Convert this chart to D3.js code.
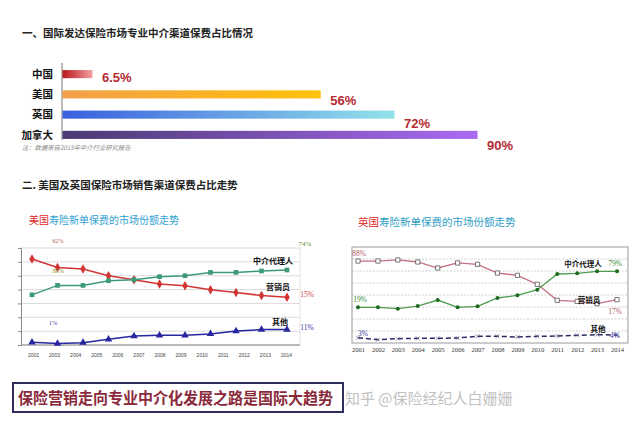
<!DOCTYPE html>
<html>
	<head>
		<meta charset="utf-8">
		<title>保险营销走向专业中介化</title>
		<script src="https://d3js.org/d3.v7.min.js"></script>
		<style>
			html, body { margin: 0; background: #fff; overflow: hidden; }
			#chart { display: block; font-family: "Noto Sans CJK SC", "Noto Sans", sans-serif; }
		</style>
	</head>
	<body>
		<svg id="chart" width="640" height="423"></svg>
		<script>
			// part 1: share of premium through intermediaries
			let barCountries = ["中国", "美国", "英国", "加拿大"];
			let barValues = [6.5, 56, 72, 90];
			let barLabels = ["6.5%", "56%", "72%", "90%"];

			// part 2 left: US new life premium share (11 points, 13 year labels as in source)
			let usYears = ["2002", "2003", "2004", "2005", "2006", "2007", "2008", "2009", "2010", "2011", "2012", "2013", "2014"];
			let usAgent = [36.2, 43, 43, 46.4, 47.1, 49.3, 50, 52.4, 52.4, 53.4, 54.1];
			let usSales = [62.1, 56, 54.8, 50, 47.1, 44, 42.8, 39.9, 37.9, 35.7, 34.5];
			let usOther = [1.9, 1, 1.7, 4.1, 6.5, 7, 7, 8, 10.1, 11.1, 11.1];

			// part 2 right: UK new life premium share
			let ukYears = ["2001", "2002", "2003", "2004", "2005", "2006", "2007", "2008", "2009", "2010", "2011", "2012", "2013", "2014"];
			let ukSales = [68.3, 68.3, 69.2, 67.5, 62.5, 66.7, 65.6, 58.3, 56.4, 48.9, 35.6, 34.7, 32.8, 36.1];
			let ukAgent = [29.7, 29.7, 28.6, 30.8, 35.8, 29.7, 30.6, 37.5, 39.7, 44.4, 57.5, 58.1, 59.7, 59.7];
			let ukOther = [4.4, 2.8, 3.6, 3.9, 3.9, 4.2, 5.6, 5.6, 5, 5.6, 5.8, 6.4, 6.9, 6.7];

			let barColors = [["#b8161c", "#f3a0a0"], ["#f2a04a", "#ffc108"], ["#3a5fe0", "#92e2ea"], ["#4a3a72", "#aa6af2"]];

			let svg = d3.select("#chart");
			svg.append("rect").attr("width", 640).attr("height", 423).attr("fill", "#fff");

			// headings
			svg.append("text")
				.attr("x", 22).attr("y", 37)
				.attr("font-size", 10.5).attr("font-weight", "bold").attr("fill", "#222")
				.text("一、国际发达保险市场专业中介渠道保费占比情况");

			svg.append("text")
				.attr("x", 22).attr("y", 189)
				.attr("font-size", 10.5).attr("font-weight", "bold").attr("fill", "#222")
				.text("二. 美国及英国保险市场销售渠道保费占比走势");

			// ---------- bar chart ----------
			let barX = d3.scaleLinear().domain([0, 90]).range([62, 477]);
			let barY = d3.scaleBand().domain(barCountries).range([64, 145]).paddingInner(0.6).paddingOuter(0.3);

			let defs = svg.append("defs");
			barCountries.forEach(function (c, i)
			{
				let grad = defs.append("linearGradient").attr("id", "bar-grad-" + i);
				grad.append("stop").attr("offset", "0%").attr("stop-color", barColors[i][0]);
				grad.append("stop").attr("offset", "100%").attr("stop-color", barColors[i][1]);
			});

			svg.append("line")
				.attr("x1", barX(0)).attr("x2", barX(0))
				.attr("y1", 63).attr("y2", 140)
				.attr("stroke", "#777").attr("stroke-width", 1);

			svg.append("g").selectAll("rect")
				.data(barValues)
				.join("rect")
				.attr("x", barX(0) + 0.5)
				.attr("y", (d, i) => barY(barCountries[i]))
				.attr("width", d => barX(d) - barX(0))
				.attr("height", barY.bandwidth())
				.attr("fill", (d, i) => "url(#bar-grad-" + i + ")");

			svg.append("g").selectAll("text")
				.data(barCountries)
				.join("text")
				.attr("x", 53)
				.attr("y", d => barY(d) + barY.bandwidth() / 2)
				.attr("dy", "0.36em")
				.attr("text-anchor", "end")
				.attr("font-size", 10.5).attr("font-weight", "bold").attr("fill", "#111")
				.text(d => d);

			svg.append("g").selectAll("text")
				.data(barValues)
				.join("text")
				.attr("x", d => barX(d) + 10)
				.attr("y", (d, i) => barY(barCountries[i]) + barY.bandwidth() / 2 + 8 + i * 2.5)
				.attr("font-family", "Liberation Sans, Arial, sans-serif")
				.attr("font-size", 13).attr("font-weight", "bold").attr("fill", "#b52a32")
				.text((d, i) => barLabels[i]);

			svg.append("text")
				.attr("x", 22).attr("y", 150)
				.attr("font-size", 6.3).attr("font-style", "italic").attr("fill", "#8a8a8a")
				.text("注：数据来自2015年中介行业研究报告");

			// ---------- US line chart ----------
			let usTitle = svg.append("text").attr("x", 29).attr("y", 224).attr("font-size", 10);
			usTitle.append("tspan").attr("fill", "#e02424").text("美国");
			usTitle.append("tspan").attr("fill", "#2fa0d2").text("寿险新单保费的市场份额走势");

			let usX = d3.scaleLinear().domain([0, usAgent.length - 1]).range([32, 287]);
			let usTickX = d3.scalePoint().domain(usYears).range([33, 286]);
			let usY = d3.scaleLinear().domain([0, 70]).range([345, 248]);

			let us = svg.append("g");

			us.append("g").selectAll("line")
				.data(usY.ticks(7))
				.join("line")
				.attr("x1", 21).attr("x2", 300)
				.attr("y1", d => usY(d)).attr("y2", d => usY(d))
				.attr("stroke", "#d2d2d2").attr("stroke-width", 0.8);

			us.append("line")
				.attr("x1", 300).attr("x2", 300).attr("y1", usY(70)).attr("y2", usY(0))
				.attr("stroke", "#dcdcdc").attr("stroke-width", 0.8);

			us.append("g")
				.attr("transform", "translate(21,0)")
				.call(d3.axisLeft(usY).ticks(7).tickSize(3).tickFormat(""))
				.call(g => g.selectAll("path, line").attr("stroke", "#888"));

			us.append("g")
				.attr("transform", "translate(0," + usY(0) + ")")
				.call(d3.axisBottom(usTickX).tickSize(0).tickPadding(8))
				.call(g => g.select(".domain").attr("d", "M21,0H300").attr("stroke", "#888"))
				.call(g => g.selectAll("text").attr("font-size", 5).attr("fill", "#444").attr("font-family", "Liberation Sans, sans-serif"));

			let usLine = d3.line().x((d, i) => usX(i)).y(d => usY(d));
			let usSeries = [
				{ values: usSales, color: "#d23434", shape: d3.symbolDiamond, size: 26 },
				{ values: usAgent, color: "#3c9a78", shape: d3.symbolSquare, size: 22 },
				{ values: usOther, color: "#2626a0", shape: d3.symbolTriangle, size: 24 }
			];

			usSeries.forEach(function (s)
			{
				us.append("path")
					.attr("d", usLine(s.values))
					.attr("fill", "none").attr("stroke", s.color).attr("stroke-width", 1.5);

				us.append("g").selectAll("path")
					.data(s.values)
					.join("path")
					.attr("transform", (d, i) => "translate(" + usX(i) + "," + usY(d) + ")")
					.attr("d", d3.symbol().type(s.shape).size(s.size))
					.attr("fill", s.color);
			});

			let usNotes = [
				{ x: 58, y: 243, text: "62%", color: "#b85a5a", size: 6 },
				{ x: 58, y: 273, text: "38%", color: "#8a8a20", size: 6.5 },
				{ x: 53, y: 325, text: "1%", color: "#4a4aa8", size: 6.5 },
				{ x: 305, y: 246, text: "74%", color: "#6a8a2a", size: 7 },
				{ x: 307, y: 297, text: "15%", color: "#c84040", size: 7.5 },
				{ x: 307, y: 330, text: "11%", color: "#3a3aa8", size: 7.5 }
			];
			us.append("g").selectAll("text")
				.data(usNotes)
				.join("text")
				.attr("x", d => d.x).attr("y", d => d.y)
				.attr("text-anchor", "middle")
				.attr("font-family", "Liberation Serif, serif")
				.attr("font-size", d => d.size).attr("fill", d => d.color)
				.text(d => d.text);

			let usNames = [
				{ x: 293, y: 264, text: "中介代理人" },
				{ x: 290, y: 290, text: "营销员" },
				{ x: 288, y: 325, text: "其他" }
			];
			us.append("g").selectAll("text")
				.data(usNames)
				.join("text")
				.attr("x", d => d.x).attr("y", d => d.y)
				.attr("text-anchor", "end")
				.attr("font-size", 8).attr("font-weight", "bold").attr("fill", "#111")
				.text(d => d.text);

			// ---------- UK line chart ----------
			let ukTitle = svg.append("text").attr("x", 358).attr("y", 226).attr("font-size", 10.5);
			ukTitle.append("tspan").attr("fill", "#e02424").text("英国");
			ukTitle.append("tspan").attr("fill", "#2fa0c4").text("寿险新单保费的市场份额走势");

			let ukX = d3.scalePoint().domain(ukYears).range([358, 617]);
			let ukY = d3.scaleLinear().domain([0, 80]).range([343, 247]);

			let uk = svg.append("g");

			uk.append("g").selectAll("line")
				.data(ukY.ticks(8).slice(1, -1))
				.join("line")
				.attr("x1", 352).attr("x2", 628)
				.attr("y1", d => ukY(d)).attr("y2", d => ukY(d))
				.attr("stroke", "#c4c4c4").attr("stroke-width", 0.8).attr("stroke-dasharray", "2,1.5");

			uk.append("rect")
				.attr("x", 352).attr("y", ukY(80))
				.attr("width", 276).attr("height", ukY(0) - ukY(80))
				.attr("fill", "none").attr("stroke", "#9a9a9a").attr("stroke-width", 1);

			uk.append("g")
				.attr("transform", "translate(0," + ukY(0) + ")")
				.call(d3.axisBottom(ukX).tickSize(0).tickPadding(4))
				.call(g => g.select(".domain").remove())
				.call(g => g.selectAll("text").attr("font-size", 6.5).attr("fill", "#333").attr("font-family", "Liberation Serif, serif"));

			let ukLine = d3.line().x((d, i) => ukX(ukYears[i])).y(d => ukY(d));

			uk.append("path")
				.attr("d", ukLine(ukOther))
				.attr("fill", "none").attr("stroke", "#2a2a62").attr("stroke-width", 1.5).attr("stroke-dasharray", "5,3");
			uk.append("g").selectAll("path")
				.data(ukOther)
				.join("path")
				.attr("transform", (d, i) => "translate(" + ukX(ukYears[i]) + "," + ukY(d) + ")")
				.attr("d", d3.symbol().type(d3.symbolTimes || d3.symbolCross).size(12))
				.attr("fill", "none").attr("stroke", "#6a6a8a").attr("stroke-width", 0.7);

			uk.append("path")
				.attr("d", ukLine(ukSales))
				.attr("fill", "none").attr("stroke", "#c67080").attr("stroke-width", 1.3);
			uk.append("g").selectAll("path")
				.data(ukSales)
				.join("path")
				.attr("transform", (d, i) => "translate(" + ukX(ukYears[i]) + "," + ukY(d) + ")")
				.attr("d", d3.symbol().type(d3.symbolSquare).size(18))
				.attr("fill", "#fff").attr("stroke", "#555").attr("stroke-width", 0.8);

			uk.append("path")
				.attr("d", ukLine(ukAgent))
				.attr("fill", "none").attr("stroke", "#4e9c4e").attr("stroke-width", 1.3);
			uk.append("g").selectAll("circle")
				.data(ukAgent)
				.join("circle")
				.attr("cx", (d, i) => ukX(ukYears[i])).attr("cy", d => ukY(d))
				.attr("r", 2).attr("fill", "#1e6a1e");

			let ukNotes = [
				{ x: 359, y: 256, text: "88%", color: "#b05a62" },
				{ x: 360, y: 302, text: "19%", color: "#3a8a3a" },
				{ x: 363, y: 336, text: "3%", color: "#3a3aa0" },
				{ x: 615, y: 266, text: "79%", color: "#3a8a3a" },
				{ x: 615, y: 314, text: "17%", color: "#b05a62" },
				{ x: 615, y: 338, text: "4%", color: "#3a3aa0" }
			];
			uk.append("g").selectAll("text")
				.data(ukNotes)
				.join("text")
				.attr("x", d => d.x).attr("y", d => d.y)
				.attr("text-anchor", "middle")
				.attr("font-family", "Liberation Serif, serif")
				.attr("font-size", 7.5).attr("fill", d => d.color)
				.text(d => d.text);

			let ukNames = [
				{ x: 583, y: 267, text: "中介代理人" },
				{ x: 589, y: 303, text: "营销员" },
				{ x: 598, y: 332, text: "其他" }
			];
			uk.append("g").selectAll("text")
				.data(ukNames)
				.join("text")
				.attr("x", d => d.x).attr("y", d => d.y)
				.attr("text-anchor", "middle")
				.attr("font-size", 7.5).attr("font-weight", "bold").attr("fill", "#111")
				.text(d => d.text);

			// ---------- banner ----------
			svg.append("rect")
				.attr("x", 13).attr("y", 383).attr("width", 330).attr("height", 29)
				.attr("fill", "#fff").attr("stroke", "#2d2d5e").attr("stroke-width", 2);

			svg.append("text")
				.attr("x", 18).attr("y", 403.5)
				.attr("font-size", 15.5).attr("font-weight", "bold").attr("fill", "#8a2a3a")
				.attr("textLength", 315).attr("lengthAdjust", "spacingAndGlyphs")
				.text("保险营销走向专业中介化发展之路是国际大趋势");

			svg.append("text")
				.attr("x", 345).attr("y", 404)
				.attr("font-size", 15).attr("fill", "#c2c2c2")
				.text("知乎 @保险经纪人白姗姗");
		</script>
	</body>
</html>
